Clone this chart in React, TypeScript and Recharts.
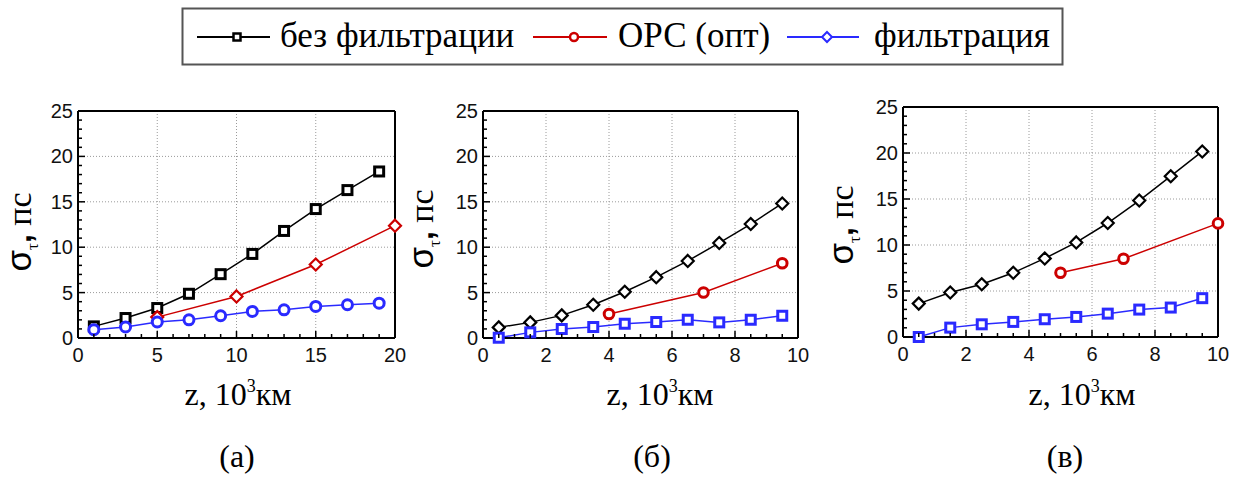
import React from "react";
import { LineChart, Line, XAxis, YAxis, CartesianGrid } from "recharts";

// ---- data ----

// panel (а): z = 0..20
const aRawX = [1, 3, 5, 7, 9, 11, 13, 15, 17, 19];
const aRawY = [1.28, 2.2, 3.3, 4.87, 7.03, 9.26, 11.79, 14.2, 16.29, 18.34];
const aOpcX = [5, 10, 15, 20];
const aOpcY = [2.3, 4.58, 8.09, 12.37];
const aFiltX = [1, 3, 5, 7, 9, 11, 13, 15, 17, 19];
const aFiltY = [0.92, 1.21, 1.76, 2.0, 2.45, 2.93, 3.1, 3.48, 3.66, 3.84];

// panel (б): z = 0..10
const bRawX = [0.5, 1.5, 2.5, 3.5, 4.5, 5.5, 6.5, 7.5, 8.5, 9.5];
const bRawY = [1.17, 1.72, 2.49, 3.66, 5.09, 6.7, 8.49, 10.47, 12.55, 14.82];
const bOpcX = [4, 7, 9.5];
const bOpcY = [2.64, 5.01, 8.24];
const bFiltX = [0.5, 1.5, 2.5, 3.5, 4.5, 5.5, 6.5, 7.5, 8.5, 9.5];
const bFiltY = [0.03, 0.62, 0.99, 1.21, 1.57, 1.76, 2.01, 1.72, 2.01, 2.45];

// panel (в): z = 0..10
const cRawX = [0.5, 1.5, 2.5, 3.5, 4.5, 5.5, 6.5, 7.5, 8.5, 9.5];
const cRawY = [3.63, 4.83, 5.74, 6.98, 8.54, 10.28, 12.39, 14.83, 17.48, 20.17];
const cOpcX = [5, 7, 10];
const cOpcY = [6.98, 8.5, 12.35];
const cFiltX = [0.5, 1.5, 2.5, 3.5, 4.5, 5.5, 6.5, 7.5, 8.5, 9.5];
const cFiltY = [0.0, 1.02, 1.38, 1.64, 1.93, 2.18, 2.54, 2.98, 3.2, 4.22];

// ticks (major ones get a label)
const yTicks = [0, 5, 10, 15, 20, 25];
const yMinor = [1, 2, 3, 4, 6, 7, 8, 9, 11, 12, 13, 14, 16, 17, 18, 19, 21, 22, 23, 24];
const xTicks20 = [0, 5, 10, 15, 20];
const xMinor20 = [1, 2, 3, 4, 6, 7, 8, 9, 11, 12, 13, 14, 16, 17, 18, 19];
const xTicks10 = [0, 2, 4, 6, 8, 10];
const xMinor10 = [0.5, 1, 1.5, 2.5, 3, 3.5, 4.5, 5, 5.5, 6.5, 7, 7.5, 8.5, 9, 9.5];

const LEGEND = ["без фильтрации", "ОРС (опт)", "фильтрация"];

const BLACK = "#000000";
const RED = "#cc0000";
const BLUE = "#2a2aff";

const SANS = "'Liberation Sans', Arial, sans-serif";
const SERIF = "'Liberation Serif', 'Times New Roman', serif";

const MAJOR = 7;
const MINOR = 4;

const pts = (xs: number[], ys: number[]) => xs.map((x, i) => ({ x, y: ys[i] }));
const sorted = (a: number[], b: number[]) => [...a, ...b].sort((p, q) => p - q);

type Shape = "square" | "circle" | "diamond";

function marker(shape: Shape, color: string, size: number, sw: number) {
  return (props: any) => {
    const { cx, cy, index } = props;
    if (cx == null || cy == null) return <g key={index} />;
    if (shape === "square")
      return (
        <rect key={index} x={cx - size} y={cy - size} width={size * 2} height={size * 2}
          fill="#fff" stroke={color} strokeWidth={sw} />
      );
    if (shape === "circle")
      return <circle key={index} cx={cx} cy={cy} r={size} fill="#fff" stroke={color} strokeWidth={sw} />;
    return (
      <polygon key={index}
        points={`${cx},${cy - size} ${cx + size},${cy} ${cx},${cy + size} ${cx - size},${cy}`}
        fill="#fff" stroke={color} strokeWidth={sw} />
    );
  };
}

// inward tick marks, one axis per side; major ticks are long, minor short
function makeTick(side: "bottom" | "left" | "top" | "right", major: number[]) {
  return (props: any) => {
    const { x, y, payload } = props;
    const v = payload?.value;
    const isMajor = major.includes(v);
    const len = isMajor ? MAJOR : MINOR;
    if (side === "bottom") {
      return (
        <g>
          <line x1={x} x2={x} y1={y} y2={y - len} stroke="#000" strokeWidth={1.5} />
          {isMajor && (
            <text x={x} y={y + 24} textAnchor="middle" fontFamily={SANS} fontSize={20} fill="#111">{v}</text>
          )}
        </g>
      );
    }
    if (side === "left") {
      return (
        <g>
          <line x1={x} x2={x + len} y1={y} y2={y} stroke="#000" strokeWidth={1.5} />
          {isMajor && (
            <text x={x - 5} y={y + 7} textAnchor="end" fontFamily={SANS} fontSize={20} fill="#111">{v}</text>
          )}
        </g>
      );
    }
    if (side === "top") return <line x1={x} x2={x} y1={y} y2={y + len} stroke="#000" strokeWidth={1.5} />;
    return <line x1={x} x2={x - len} y1={y} y2={y} stroke="#000" strokeWidth={1.5} />;
  };
}

type Series = { xs: number[]; ys: number[]; color: string; shape: Shape; size: number; sw: number };

type PanelProps = {
  left: number;
  top: number;
  width: number;
  height: number;
  margin: { top: number; right: number; bottom: number; left: number };
  xMax: number;
  xTicks: number[];
  xMinor: number[];
  series: Series[];
};

function Panel({ left, top, width, height, margin, xMax, xTicks, xMinor, series }: PanelProps) {
  const axisLine = { stroke: "#000", strokeWidth: 2 };
  const xAll = sorted(xTicks, xMinor);
  const yAll = sorted(yTicks, yMinor);
  return (
    <div style={{ position: "absolute", left, top }}>
      <LineChart width={width} height={height} margin={margin}>
        <CartesianGrid stroke="#9a9a9a" strokeDasharray="1 2" strokeWidth={1}
          horizontalValues={yTicks} verticalValues={xTicks} />
        <XAxis dataKey="x" type="number" domain={[0, xMax]} ticks={xAll} height={1} interval={0}
          tickSize={0} tickMargin={0} tickLine={false} axisLine={axisLine}
          tick={makeTick("bottom", xTicks)} />
        <XAxis xAxisId="t" orientation="top" dataKey="x" type="number" domain={[0, xMax]} ticks={xAll}
          height={1} interval={0} tickSize={0} tickMargin={0} tickLine={false} axisLine={axisLine}
          tick={makeTick("top", xTicks)} />
        <YAxis type="number" domain={[0, 25]} ticks={yAll} width={1} interval={0}
          tickSize={0} tickMargin={0} tickLine={false} axisLine={axisLine}
          tick={makeTick("left", yTicks)} />
        <YAxis yAxisId="r" orientation="right" type="number" domain={[0, 25]} ticks={yAll} width={1}
          interval={0} tickSize={0} tickMargin={0} tickLine={false} axisLine={axisLine}
          tick={makeTick("right", yTicks)} />

        {series.map((s, i) => (
          <Line key={i} data={pts(s.xs, s.ys)} dataKey="y" type="linear" stroke={s.color}
            strokeWidth={1.5} dot={marker(s.shape, s.color, s.size, s.sw)} activeDot={false}
            isAnimationActive={false} />
        ))}
      </LineChart>
    </div>
  );
}

function YLabel({ x, y }: { x: number; y: number }) {
  return (
    <text transform={`translate(${x},${y}) rotate(-90)`} textAnchor="middle" fill="#000">
      <tspan fontFamily={SANS} fontSize={35}>σ</tspan>
      <tspan fontFamily={SERIF} fontSize={17} dy={7}>τ</tspan>
      <tspan fontFamily={SANS} fontSize={32} fontWeight="bold" dy={-7}>,</tspan>
      <tspan fontFamily={SERIF} fontSize={34}> пс</tspan>
    </text>
  );
}

function XLabel({ x, y }: { x: number; y: number }) {
  return (
    <text x={x} y={y} textAnchor="middle" fontFamily={SERIF} fontSize={32} fill="#000">
      <tspan>z, 10</tspan>
      <tspan fontSize={18} dy={-13}>3</tspan>
      <tspan dy={13}>км</tspan>
    </text>
  );
}

function LegendItem({ x1, x2, mx, color, shape, label, tx }: any) {
  const y = 37;
  let m;
  if (shape === "square") m = <rect x={mx - 3.5} y={y - 3.5} width={7} height={7} fill="#fff" stroke={color} strokeWidth={2.5} />;
  else if (shape === "circle") m = <circle cx={mx} cy={y} r={4} fill="#fff" stroke={color} strokeWidth={2.5} />;
  else m = <polygon points={`${mx},${y - 5} ${mx + 5},${y} ${mx},${y + 5} ${mx - 5},${y}`} fill="#fff" stroke={color} strokeWidth={2} />;
  return (
    <g>
      <line x1={x1} x2={x2} y1={y} y2={y} stroke={color} strokeWidth={2} />
      {m}
      <text x={tx} y={47} fontFamily={SERIF} fontSize={35} fill="#000">{label}</text>
    </g>
  );
}

export default function App() {
  return (
    <div style={{ position: "fixed", left: 0, top: 0, width: 1239, height: 479, background: "#fff", overflow: "hidden" }}>
      <Panel left={0} top={80} width={420} height={300}
        margin={{ top: 30, right: 24, bottom: 41, left: 77 }} xMax={20}
        xTicks={xTicks20} xMinor={xMinor20}
        series={[
          { xs: aRawX, ys: aRawY, color: BLACK, shape: "square", size: 4.5, sw: 3 },
          { xs: aOpcX, ys: aOpcY, color: RED, shape: "diamond", size: 6, sw: 2.2 },
          { xs: aFiltX, ys: aFiltY, color: BLUE, shape: "circle", size: 5, sw: 3 },
        ]} />
      <Panel left={400} top={80} width={420} height={300}
        margin={{ top: 30, right: 21, bottom: 41, left: 82 }} xMax={10}
        xTicks={xTicks10} xMinor={xMinor10}
        series={[
          { xs: bRawX, ys: bRawY, color: BLACK, shape: "diamond", size: 6, sw: 2.2 },
          { xs: bOpcX, ys: bOpcY, color: RED, shape: "circle", size: 4.8, sw: 3 },
          { xs: bFiltX, ys: bFiltY, color: BLUE, shape: "square", size: 4.5, sw: 3 },
        ]} />
      <Panel left={820} top={80} width={419} height={300}
        margin={{ top: 26, right: 20, bottom: 42, left: 82 }} xMax={10}
        xTicks={xTicks10} xMinor={xMinor10}
        series={[
          { xs: cRawX, ys: cRawY, color: BLACK, shape: "diamond", size: 6, sw: 2.2 },
          { xs: cOpcX, ys: cOpcY, color: RED, shape: "circle", size: 4.8, sw: 3 },
          { xs: cFiltX, ys: cFiltY, color: BLUE, shape: "square", size: 4.5, sw: 3 },
        ]} />

      <svg width={1239} height={479} style={{ position: "absolute", left: 0, top: 0, pointerEvents: "none" }}>
        <rect x={182.5} y={8.5} width={880} height={56} fill="none" stroke="#555" strokeWidth={2} />
        <LegendItem x1={197} x2={270} mx={237} color={BLACK} shape="square" label={LEGEND[0]} tx={280} />
        <LegendItem x1={533} x2={607} mx={574} color={RED} shape="circle" label={LEGEND[1]} tx={618} />
        <LegendItem x1={787} x2={859} mx={827} color={BLUE} shape="diamond" label={LEGEND[2]} tx={874} />

        <YLabel x={31} y={232} />
        <YLabel x={433} y={229} />
        <YLabel x={853} y={225} />

        <XLabel x={238} y={405} />
        <XLabel x={660} y={405} />
        <XLabel x={1082} y={405} />

        <text x={237} y={467} textAnchor="middle" fontFamily={SERIF} fontSize={32}>(а)</text>
        <text x={652} y={467} textAnchor="middle" fontFamily={SERIF} fontSize={32}>(б)</text>
        <text x={1065} y={467} textAnchor="middle" fontFamily={SERIF} fontSize={32}>(в)</text>
      </svg>
    </div>
  );
}
